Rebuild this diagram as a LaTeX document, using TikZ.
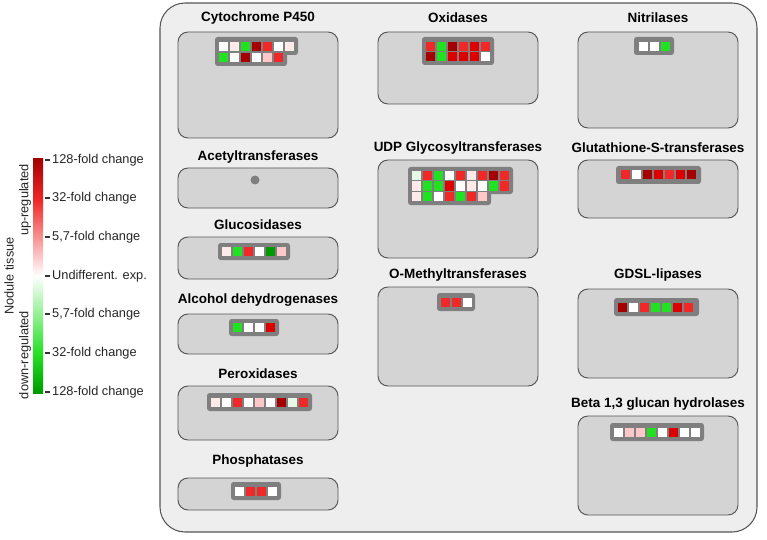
\documentclass[tikz,border=0pt]{standalone}
\usepackage{fontspec}
\setmainfont{Liberation Sans}
\usepackage{xcolor}
\usetikzlibrary{positioning,calc}

\definecolor{outerfill}{HTML}{EEEEEE}
\definecolor{boxfill}{HTML}{D4D4D4}
\definecolor{boxline}{HTML}{555555}
\definecolor{grpgray}{HTML}{7F7F7F}
\definecolor{dred}{HTML}{A50000}
\definecolor{red1}{HTML}{F02828}
\definecolor{red2}{HTML}{DC0000}
\definecolor{grn}{HTML}{22E022}
\definecolor{dgrn}{HTML}{009A00}
\definecolor{lpk}{HTML}{FFC8C8}
\definecolor{vpk}{HTML}{FFEAEA}
\definecolor{vpg}{HTML}{E8F8E8}
\definecolor{wh}{HTML}{FFFFFF}

% one row of expression cells: x, y, colours
\newcommand{\cellrow}[3]{\foreach \c [count=\i from 0] in {#3} \fill[fill=\c] ({#1+11*\i},#2) rectangle ++(9,9);}

\begin{document}
\begin{tikzpicture}[x=0.03cm,y=-0.03cm,
    box/.style={draw=boxline, fill=boxfill, line width=0.8pt, rounded corners=3mm},
    grp/.style={fill=grpgray, rounded corners=0.8mm},
    title/.style={font=\bfseries\fontsize{11.5}{13}\selectfont, inner sep=0pt},
    lab/.style={anchor=west, font=\fontsize{10.9}{12}\selectfont, text=black!85, inner sep=0pt},
    side/.style={rotate=90, font=\fontsize{10.9}{12}\selectfont, text=black!85, inner sep=0pt}]
    \useasboundingbox (0,0) rectangle (767,539);

    % Outer frame
    \draw[draw=boxline, fill=outerfill, line width=0.9pt, rounded corners=7.5mm] (160,3) rectangle (757,532);

    % Legend
    \shade[top color=dred, bottom color=red1] (33,159) rectangle (43,200);
    \shade[top color=red1, bottom color=white] (33,200) rectangle (43,276);
    \shade[top color=white, bottom color=grn] (33,276) rectangle (43,355);
    \shade[top color=grn, bottom color=dgrn] (33,355) rectangle (43,393);
    \node[side] (nodule) at (9,276) {Nodule tissue};
    \node[side] (up) at (25,200) {up-regulated};
    \node[side] (down) at (25,355) {down-regulated};
    \foreach \y/\t [count=\k] in {160/128-fold change, 198/32-fold change, 237/{5,7-fold change},
        276/Undifferent. exp., 314/{5,7-fold change}, 353/32-fold change, 392/128-fold change} {
      \draw[line width=1.6pt, black!80] (45,\y) -- (50,\y);
      \node[lab] (leg\k) at (52,\y) {\t};
    }

    % Cytochrome P450
    \node[title] (cyp) at (258,18) {Cytochrome P450};
    \draw[box] (178,32) rectangle (338,138);
    \fill[grp] (215,37) rectangle (298,55);
    \fill[grp] (215,45) rectangle (287,66);
    \cellrow{219}{42}{wh,vpk,grn,dred,red1,wh,vpk}
    \cellrow{219}{53}{grn,wh,dred,wh,lpk,red1}

    % Acetyltransferases
    \node[title] (acet) at (258,157) {Acetyltransferases};
    \draw[box] (178,168) rectangle (338,208);
    \fill[grpgray] (255,180) circle (4.5);

    % Glucosidases
    \node[title] (gluc) at (258,225) {Glucosidases};
    \draw[box] (178,237) rectangle (338,279);
    \fill[grp] (218,243) rectangle (290,260);
    \cellrow{222}{247}{vpk,grn,red1,wh,dgrn,lpk}

    % Alcohol dehydrogenases
    \node[title] (alc) at (258,300) {Alcohol dehydrogenases};
    \draw[box] (178,314) rectangle (338,354);
    \fill[grp] (229,319) rectangle (279,336);
    \cellrow{233}{323}{grn,wh,wh,red2}

    % Peroxidases
    \node[title] (perox) at (258,374) {Peroxidases};
    \draw[box] (178,386) rectangle (338,440);
    \fill[grp] (207,393) rectangle (312,411);
    \cellrow{211}{398}{vpk,wh,red1,wh,lpk,wh,dred,vpg,red1}

    % Phosphatases
    \node[title] (phos) at (258,461) {Phosphatases};
    \draw[box] (178,478) rectangle (338,510);
    \fill[grp] (231,482) rectangle (281,500);
    \cellrow{235}{487}{wh,red1,red1,wh}

    % Oxidases
    \node[title] (oxid) at (458,18) {Oxidases};
    \draw[box] (378,32) rectangle (538,104);
    \fill[grp] (422,37) rectangle (494,65);
    \cellrow{426}{42}{red1,grn,dred,red1,red2,red1}
    \cellrow{426}{52}{dred,grn,red2,red2,red2,wh}

    % UDP Glycosyltransferases
    \node[title] (udp) at (458,148) {UDP Glycosyltransferases};
    \draw[box] (378,160) rectangle (538,258);
    \fill[grp] (408,167) rectangle (513,194);
    \fill[grp] (408,185) rectangle (491,205);
    \cellrow{412}{171}{vpg,red1,grn,wh,red1,vpk,red1,dred,red1}
    \cellrow{412}{181.5}{vpk,grn,grn,red2,wh,vpk,wh,grn,red1}
    \cellrow{412}{192}{vpk,grn,wh,red1,grn,red1,lpk}

    % O-Methyltransferases
    \node[title] (ometh) at (458,275) {O-Methyltransferases};
    \draw[box] (378,287) rectangle (538,386);
    \fill[grp] (437,293) rectangle (475,311);
    \cellrow{441}{298}{red1,red1,wh}

    % Nitrilases
    \node[title] (nitr) at (658,18) {Nitrilases};
    \draw[box] (578,32) rectangle (738,128);
    \fill[grp] (634,37) rectangle (674,55);
    \cellrow{639}{42}{wh,wh,grn}

    % Glutathione-S-transferases
    \node[title] (glut) at (658,148) {Glutathione-S-transferases};
    \draw[box] (578,160) rectangle (738,218);
    \fill[grp] (616,166) rectangle (701,184);
    \cellrow{621}{170}{red1,wh,dred,red2,red1,red2,dred}

    % GDSL-lipases
    \node[title] (gdsl) at (658,275) {GDSL-lipases};
    \draw[box] (578,289) rectangle (738,378);
    \fill[grp] (614,298) rectangle (699,316);
    \cellrow{618}{303}{dred,wh,red1,grn,grn,red2,red1}

    % Beta 1,3 glucan hydrolases
    \node[title] (beta) at (658,404) {Beta 1,3 glucan hydrolases};
    \draw[box] (578,416) rectangle (738,515);
    \fill[grp] (610,423) rectangle (704,441);
    \cellrow{614}{428}{wh,lpk,lpk,grn,wh,red2,wh,wh}
\end{tikzpicture}
\end{document}
